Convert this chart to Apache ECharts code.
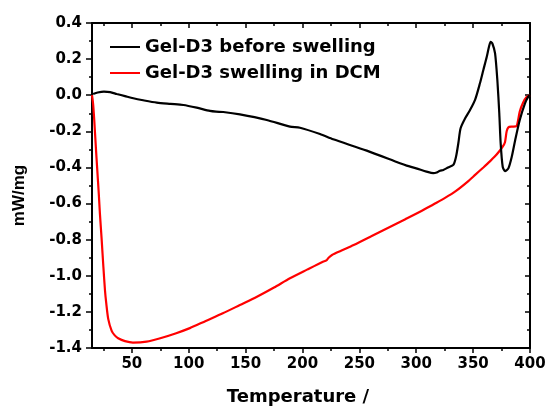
<!doctype html>
<html lang="en">
<head>
    <meta charset="UTF-8">
    <title>DSC Gel-D3</title>
    <script src="https://cdn.jsdelivr.net/npm/echarts@6/dist/echarts.min.js"></script>
    <style>
        html, body { margin: 0; padding: 0; background: #fff; }
        #main { width: 549px; height: 408px; }
    </style>
</head>
<body>
<div id="main"></div>
<script>
    // 数据
    var tempBefore = [16, 20, 25.5, 31, 36.7, 44, 51.3, 60, 71.9, 84, 95.3, 107, 118.7, 124, 130.4, 145, 168.6, 189, 197.8,
        215.4, 227, 256.5, 285.7, 291.6, 300, 309, 315, 318, 320.9, 323.8, 328, 332.6, 335, 337, 339, 343, 347.3, 351.7,
        356, 359, 362, 364, 365.4, 367, 369.3, 371.3, 373, 374.2, 376, 378, 381, 384, 387, 391, 395.6, 398.5, 400];
    var valBefore = [0.007, 0.015, 0.02, 0.017, 0.007, -0.005, -0.017, -0.028, -0.041, -0.048, -0.054, -0.069, -0.087, -0.091,
        -0.093, -0.106, -0.137, -0.174, -0.18, -0.215, -0.244, -0.307, -0.377, -0.39, -0.405, -0.423, -0.432, -0.428,
        -0.418, -0.414, -0.40, -0.386, -0.34, -0.266, -0.183, -0.128, -0.082, -0.026, 0.066, 0.14, 0.213, 0.27, 0.296,
        0.285, 0.232, 0.084, -0.10, -0.265, -0.396, -0.42, -0.405, -0.34, -0.248, -0.137, -0.045, -0.008, 0.0];

    var tempDCM = [15, 16, 17, 18.5, 19.7, 21, 22, 23.5, 25, 26.4, 27.5, 29.3, 32.3, 35, 38, 44, 51, 63, 75, 89, 101, 115,
        130, 145, 160, 175, 189, 204, 218, 221, 223, 226, 233, 245, 260, 275, 290, 305, 315, 325, 335, 345, 352, 359, 365,
        369, 373, 376, 378, 379.5, 381, 384, 388, 389.5, 391, 394, 397, 400];
    var valDCM = [0.0, -0.05, -0.14, -0.30, -0.42, -0.55, -0.66, -0.80, -0.95, -1.08, -1.15, -1.24, -1.305, -1.33, -1.346,
        -1.362, -1.37, -1.365, -1.346, -1.318, -1.29, -1.25, -1.208, -1.162, -1.116, -1.065, -1.014, -0.966, -0.922,
        -0.915, -0.90, -0.885, -0.864, -0.83, -0.783, -0.735, -0.688, -0.64, -0.605, -0.57, -0.53, -0.48, -0.44, -0.40,
        -0.365, -0.34, -0.31, -0.285, -0.26, -0.20, -0.178, -0.174, -0.172, -0.14, -0.09, -0.04, -0.01, 0.0];

    var xMajor = [50, 100, 150, 200, 250, 300, 350, 400];
    var xMinor = [25, 75, 125, 175, 225, 275, 325, 375];

    function pairs(xs, ys) {
        var out = [];
        for (var i = 0; i < xs.length; i++) out.push([xs[i], ys[i]]);
        return out;
    }

    var tickFont = {fontFamily: 'DejaVu Sans', fontWeight: 'bold', fontSize: 15, color: '#000'};
    var axisLine = {show: true, onZero: false, lineStyle: {color: '#000', width: 2}};

    function xAx(pos, major, inside, withLine) {
        return {
            type: 'value', position: pos, min: 15, max: 400,
            axisLine: withLine ? axisLine : {show: false, onZero: false},
            axisTick: {show: true, inside: inside, length: major ? 5 : 3,
                customValues: major ? xMajor : xMinor, lineStyle: {color: '#000', width: 1.5}},
            axisLabel: (pos === 'bottom' && major) ? Object.assign({margin: 9, customValues: xMajor}, tickFont) : {show: false},
            splitLine: {show: false}
        };
    }

    var myChart = echarts.init(document.getElementById('main'));
    var option = {
        backgroundColor: '#fff',
        animation: false,
        grid: {left: 92, right: 19, top: 23, bottom: 60, containLabel: false, outerBoundsMode: 'none'},
        legend: {
            orient: 'vertical', left: 105, top: 32,
            icon: 'rect', itemWidth: 30, itemHeight: 2, itemGap: 6,
            textStyle: {fontFamily: 'DejaVu Sans', fontWeight: 'bold', fontSize: 18, color: '#000', lineHeight: 20},
            data: ['Gel-D3 before swelling', 'Gel-D3 swelling in DCM']
        },
        xAxis: [
            Object.assign(xAx('bottom', true, false, true), {
                name: 'Temperature /', nameLocation: 'middle', nameGap: 40,
                nameTextStyle: {fontFamily: 'DejaVu Sans', fontWeight: 'bold', fontSize: 18, color: '#000', padding: [0, 26, 0, 0]}
            }),
            xAx('bottom', false, false, false),
            xAx('top', true, true, true),
            xAx('top', false, true, false)
        ],
        yAxis: [
            {
                type: 'value', position: 'left', min: -1.4, max: 0.4, interval: 0.2,
                name: 'mW/mg', nameLocation: 'middle', nameGap: 64,
                nameTextStyle: {fontFamily: 'Liberation Sans', fontWeight: 'bold', fontSize: 17, color: '#000', padding: [0, 20, 0, 0]},
                axisLine: axisLine,
                axisTick: {show: true, length: 6, lineStyle: {color: '#000', width: 1.5}},
                minorTick: {show: true, splitNumber: 2, length: 3, lineStyle: {color: '#000', width: 1.5}},
                axisLabel: Object.assign({
                    margin: 10,
                    formatter: function (v) { return Math.abs(v) < 1e-9 ? '0.0' : v.toFixed(1); }
                }, tickFont),
                splitLine: {show: false}
            },
            {
                type: 'value', position: 'right', min: -1.4, max: 0.4, interval: 0.2,
                axisLine: axisLine,
                axisTick: {show: true, inside: true, length: 5, lineStyle: {color: '#000', width: 1.5}},
                minorTick: {show: true, splitNumber: 2, length: 3, lineStyle: {color: '#000', width: 1.5}},
                axisLabel: {show: false},
                splitLine: {show: false}
            }
        ],
        series: [
            {
                name: 'Gel-D3 swelling in DCM', type: 'line', xAxisIndex: 0, yAxisIndex: 0,
                symbol: 'none', smooth: 0.25,
                lineStyle: {color: '#ff0000', width: 2.2}, itemStyle: {color: '#ff0000'},
                data: pairs(tempDCM, valDCM)
            },
            {
                name: 'Gel-D3 before swelling', type: 'line', xAxisIndex: 0, yAxisIndex: 0,
                symbol: 'none', smooth: 0.25,
                lineStyle: {color: '#000', width: 2.2}, itemStyle: {color: '#000'},
                data: pairs(tempBefore, valBefore)
            }
        ]
    };
    myChart.setOption(option);
</script>
</body>
</html>
